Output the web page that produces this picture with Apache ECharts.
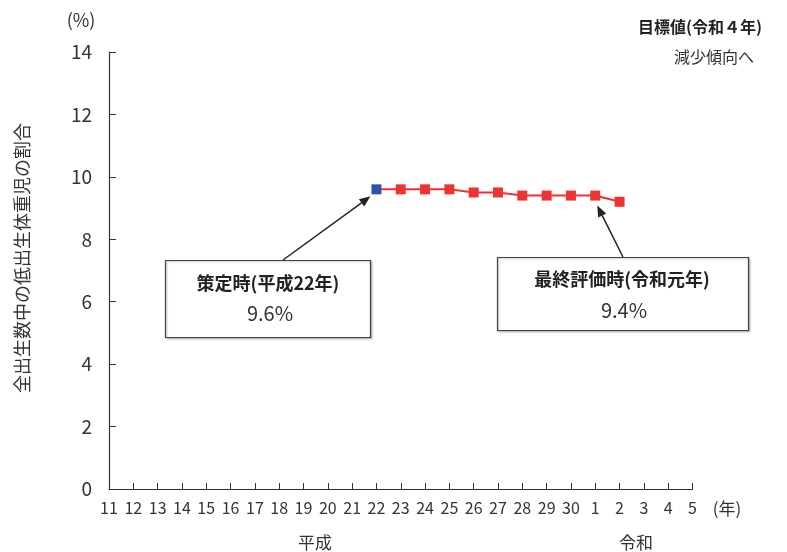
<!DOCTYPE html>
<html><head><meta charset="utf-8">
<script src="https://cdn.jsdelivr.net/npm/echarts@6/dist/echarts.min.js"></script>
<style>html,body{margin:0;padding:0;background:#fff}#c{width:787px;height:552px}</style>
</head><body><div id="c"></div>
<script>
const categories = ['11','12','13','14','15','16','17','18','19','20','21','22','23','24','25','26','27','28','29','30','1','2','3','4','5'];
const rates = [null,null,null,null,null,null,null,null,null,null,null,9.6,9.6,9.6,9.6,9.5,9.5,9.4,9.4,9.4,9.4,9.2,null,null,null];
const baselineIndex = 11;   // 平成22年
const finalIndex = 20;      // 令和元年
const yTicks = [0,2,4,6,8,10,12,14];

const FONT = '"Noto Sans CJK JP","Noto Sans",sans-serif';
const TXT = '#333';
const chart = echarts.init(document.getElementById('c'), null, {renderer:'canvas'});

const seriesData = rates.map((v,i)=> i===baselineIndex ? {value:v, itemStyle:{color:'#2a54a8'}} : v);

chart.setOption({
  animation:false,
  textStyle:{fontFamily:FONT},
  grid:{left:109, top:52, right:94.5, bottom:63},
  xAxis:{
    type:'category', data:categories, boundaryGap:false,
    axisLine:{lineStyle:{color:'#333', width:1.2}},
    axisTick:{inside:true, length:6, lineStyle:{color:'#333'}, interval:0},
    axisLabel:{color:TXT, fontSize:16, margin:11, interval:0, fontFamily:FONT}
  },
  yAxis:{
    type:'value', min:yTicks[0], max:yTicks[yTicks.length-1], interval:2,
    splitLine:{show:false},
    axisLine:{show:true, lineStyle:{color:'#333', width:1.2}},
    axisTick:{show:true, inside:true, length:7, lineStyle:{color:'#333'}},
    axisLabel:{color:TXT, fontSize:19, margin:17, fontFamily:FONT}
  },
  series:[{
    type:'line', data:seriesData, connectNulls:false,
    symbol:'rect', symbolSize:10,
    lineStyle:{color:'#ee3333', width:2},
    itemStyle:{color:'#ee3333'}
  }]
});

function arrow(x1,y1,x2,y2){
  const ang = Math.atan2(y2-y1, x2-x1);
  const L = 11, W = 4.5;
  const bx = x2 - L*Math.cos(ang), by = y2 - L*Math.sin(ang);
  const px = -Math.sin(ang)*W, py = Math.cos(ang)*W;
  return [
    {type:'line', shape:{x1:x1,y1:y1,x2:bx,y2:by}, style:{stroke:'#222', lineWidth:1.5}},
    {type:'polygon', shape:{points:[[x2,y2],[bx+px,by+py],[bx-px,by-py]]}, style:{fill:'#222'}}
  ];
}
const p0 = chart.convertToPixel({seriesIndex:0}, [baselineIndex, rates[baselineIndex]]);
const p1 = chart.convertToPixel({seriesIndex:0}, [finalIndex, rates[finalIndex]]);

function txt(x,y,t,font,fill,extra){
  return Object.assign({type:'text', x:x, y:y, style:{text:t, font:font, fill:fill||TXT, textAlign:'center', textVerticalAlign:'middle'}}, extra||{});
}
const g = [];
g.push({type:'rect', shape:{x:165.5,y:260.5,width:205,height:77}, style:{fill:'#fff', stroke:'#444', lineWidth:1.2, shadowBlur:2, shadowColor:'rgba(0,0,0,0.25)', shadowOffsetX:1, shadowOffsetY:1}});
g.push(txt(268,283,'策定時(平成22年)','bold 18px '+FONT,'#222'));
g.push(txt(270,313,'9.6%','20px '+FONT,'#333'));
g.push({type:'rect', shape:{x:497.5,y:257.5,width:251,height:73}, style:{fill:'#fff', stroke:'#444', lineWidth:1.2, shadowBlur:2, shadowColor:'rgba(0,0,0,0.25)', shadowOffsetX:1, shadowOffsetY:1}});
g.push(txt(622,279,'最終評価時(令和元年)','bold 18px '+FONT,'#222'));
g.push(txt(624,310,'9.4%','20px '+FONT,'#333'));
g.push(...arrow(283,260, p0[0]-6, p0[1]+7));
g.push(...arrow(623,257, p1[0]+2, p1[1]+10));
g.push(txt(81,20,'(%)','18px '+FONT));
g.push(txt(700,27,'目標値(令和４年)','bold 16px '+FONT,'#222'));
g.push(txt(714,57,'減少傾向へ','16px '+FONT));
g.push(txt(727,509,'(年)','17px '+FONT));
g.push(txt(315,543,'平成','17px '+FONT));
g.push(txt(636,543,'令和','17px '+FONT));
g.push(txt(22,258,'全出生数中の低出生体重児の割合','18px '+FONT,TXT,{rotation:Math.PI/2}));

chart.setOption({graphic:g});
</script></body></html>
